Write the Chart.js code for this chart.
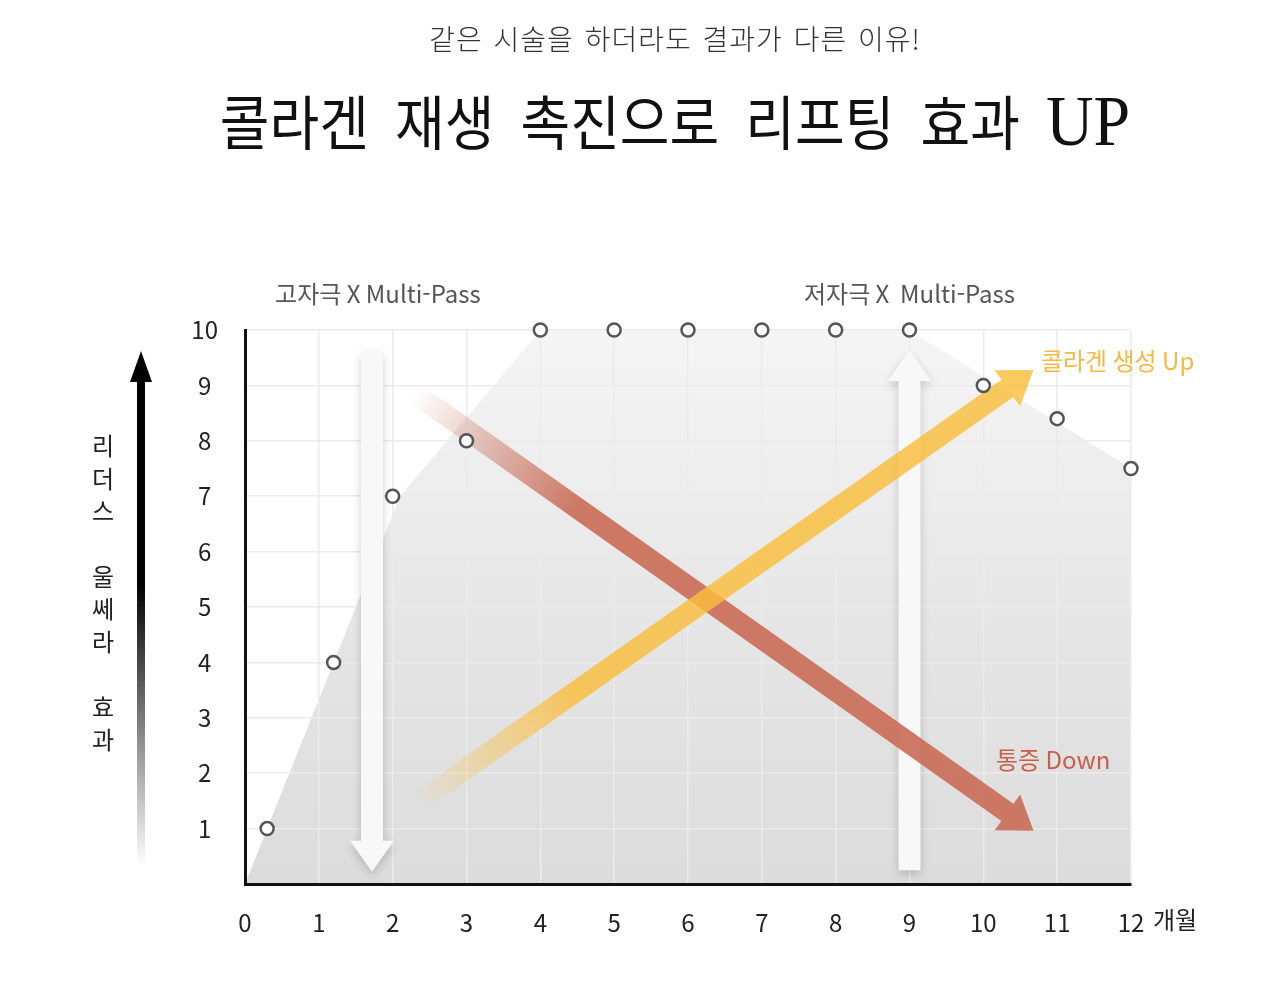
<!DOCTYPE html>
<html lang="ko">
<head>
<meta charset="utf-8">
<script src="https://cdn.jsdelivr.net/npm/chart.js@4.4.1/dist/chart.umd.min.js"></script>
<style>
  html, body { margin: 0; padding: 0; background: #fff; }
  #wrap { position: relative; width: 1266px; height: 984px; overflow: hidden; }
  #chart { position: absolute; left: 0; top: 0; }
  .head { position: absolute; left: 675px; transform: translateX(-50%); white-space: nowrap; z-index: 2; line-height: 1; }
  #sub { top: 18px; font: 300 28px "Noto Sans CJK KR", sans-serif; color: #333; letter-spacing: 1px; word-spacing: 2px; }
  #main { top: 80px; font: 400 54px "Noto Sans CJK KR", serif; color: #111; word-spacing: 11px; transform: translateX(-50%) scaleY(1.1); }
  #main span { font-family: "Liberation Serif", serif; font-size: 1.22em; }
</style>
</head>
<body>
<div id="wrap">
  <div id="sub" class="head">같은 시술을 하더라도 결과가 다른 이유!</div>
  <div id="main" class="head">콜라겐 재생 촉진으로 리프팅 효과 <span>UP</span></div>
  <canvas id="chart" width="1266" height="984"></canvas>
</div>
<script>
// measured points (months, effect level)
const months = [0.3, 1.2, 2, 3, 4, 5, 6, 7, 8, 9, 10, 11, 12];
const effect = [1, 4, 7, 8, 10, 10, 10, 10, 10, 10, 9, 8.4, 7.5];

// shaded area outline
const areaMonths = [0, 2.1, 4, 9, 12];
const areaLevel = [0, 7, 10, 10, 7.5];

const xLabels = ["0", "1", "2", "3", "4", "5", "6", "7", "8", "9", "10", "11", "12"];
const yLabels = ["", "1", "2", "3", "4", "5", "6", "7", "8", "9", "10"];
const yTitle = ["리", "더", "스", "", "울", "쎄", "라", "", "효", "과"];

// arrows in data units: [x0, y0, x1, y1]
const painArrow = [2.3, 8.86, 10.68, 0.96];
const collagenArrow = [2.3, 1.43, 10.68, 9.28];
const highArrow = [1.72, 9.62, 1.72, 0.22];
const lowArrow = [9.0, 0.25, 9.0, 9.64];

const FONT = '"Noto Sans CJK KR", "Noto Sans", sans-serif';

function arrowShape(ctx, len, shaft, headLen, headHalf) {
  ctx.beginPath();
  ctx.moveTo(0, -shaft / 2);
  ctx.lineTo(len - headLen, -shaft / 2);
  ctx.lineTo(len - headLen, -headHalf);
  ctx.lineTo(len, 0);
  ctx.lineTo(len - headLen, headHalf);
  ctx.lineTo(len - headLen, shaft / 2);
  ctx.lineTo(0, shaft / 2);
  ctx.closePath();
}

function drawArrow(chart, pts, style) {
  const ctx = chart.ctx;
  const sx = chart.scales.x, sy = chart.scales.y;
  const x0 = sx.getPixelForValue(pts[0]), y0 = sy.getPixelForValue(pts[1]);
  const x1 = sx.getPixelForValue(pts[2]), y1 = sy.getPixelForValue(pts[3]);
  const len = Math.hypot(x1 - x0, y1 - y0);
  ctx.save();
  ctx.translate(x0, y0);
  ctx.rotate(Math.atan2(y1 - y0, x1 - x0));
  arrowShape(ctx, len, style.shaft, style.headLen, style.headHalf);
  if (style.fade) {
    const g = ctx.createLinearGradient(0, 0, len, 0);
    g.addColorStop(0, style.fade);
    g.addColorStop(0.26, style.color);
    g.addColorStop(1, style.color);
    ctx.fillStyle = g;
  } else {
    ctx.fillStyle = style.color;
  }
  if (style.shadow) {
    ctx.shadowColor = style.shadow;
    ctx.shadowBlur = 10;
    ctx.shadowOffsetY = 4;
  }
  ctx.fill();
  ctx.restore();
}

const decorations = {
  id: "decorations",
  beforeDatasetsDraw(chart) {
    const white = { color: "#f8f8f8", shaft: 22, headLen: 31, headHalf: 22, shadow: "rgba(0,0,0,0.18)" };
    drawArrow(chart, highArrow, white);
    drawArrow(chart, lowArrow, white);
    drawArrow(chart, painArrow, {
      color: "rgba(203,114,94,0.95)", fade: "rgba(203,114,94,0)", shaft: 21, headLen: 32, headHalf: 22,
    });
    drawArrow(chart, collagenArrow, {
      color: "rgba(250,190,60,0.82)", fade: "rgba(250,190,60,0)", shaft: 21, headLen: 32, headHalf: 22,
    });
  },
  afterDraw(chart) {
    const ctx = chart.ctx;
    const sx = chart.scales.x, sy = chart.scales.y;
    const area = chart.chartArea;
    ctx.save();
    ctx.textBaseline = "middle";

    // phase labels
    ctx.font = "24px " + FONT;
    ctx.fillStyle = "#555";
    ctx.textAlign = "center";
    ctx.fillText("고자극 X Multi-Pass", sx.getPixelForValue(1.8), sy.getPixelForValue(10.65));
    ctx.fillText("저자극 X  Multi-Pass", sx.getPixelForValue(9.0), sy.getPixelForValue(10.65));

    ctx.textAlign = "left";
    ctx.fillStyle = "#f7b841";
    ctx.fillText("콜라겐 생성 Up", sx.getPixelForValue(10.78), sy.getPixelForValue(9.45));
    ctx.fillStyle = "#c95f48";
    ctx.fillText("통증 Down", sx.getPixelForValue(10.17), sy.getPixelForValue(2.24));

    // unit after last x tick
    ctx.fillStyle = "#222";
    ctx.fillText("개월", sx.getPixelForValue(12) + 22, area.bottom + 36);

    // y title, stacked
    ctx.textAlign = "center";
    ctx.fillStyle = "#222";
    const tx = area.left - 142;
    yTitle.forEach((ch, i) => {
      if (ch) ctx.fillText(ch, tx, 446 + i * 32.6);
    });

    // black gradient arrow
    const ax = area.left - 104;
    const top = sy.getPixelForValue(9.62);
    const bot = sy.getPixelForValue(0.32);
    const g = ctx.createLinearGradient(0, top, 0, bot);
    g.addColorStop(0, "#000");
    g.addColorStop(0.45, "#000");
    g.addColorStop(1, "rgba(0,0,0,0)");
    ctx.fillStyle = g;
    ctx.beginPath();
    ctx.moveTo(ax, top);
    ctx.lineTo(ax + 11, top + 31);
    ctx.lineTo(ax + 4, top + 31);
    ctx.lineTo(ax + 4, bot);
    ctx.lineTo(ax - 4, bot);
    ctx.lineTo(ax - 4, top + 31);
    ctx.lineTo(ax - 11, top + 31);
    ctx.closePath();
    ctx.fill();
    ctx.restore();
  },
};

new Chart(document.getElementById("chart"), {
  type: "line",
  data: {
    datasets: [
      {
        label: "effect",
        data: months.map((m, i) => ({ x: m, y: effect[i] })),
        showLine: false,
        pointRadius: 6.5,
        pointBorderWidth: 2.5,
        pointBorderColor: "#555",
        pointBackgroundColor: "#fff",
        clip: false,
        order: 0,
      },
      {
        label: "area",
        data: areaMonths.map((m, i) => ({ x: m, y: areaLevel[i] })),
        pointRadius: 0,
        borderWidth: 0,
        borderColor: "rgba(0,0,0,0)",
        tension: 0,
        fill: "origin",
        backgroundColor: (c) => {
          const a = c.chart.chartArea;
          if (!a) return "#e6e6e6";
          const g = c.chart.ctx.createLinearGradient(0, a.top, 0, a.bottom);
          g.addColorStop(0, "#f5f5f5");
          g.addColorStop(0.6, "#e4e4e4");
          g.addColorStop(1, "#dcdcdc");
          return g;
        },
        order: 1,
      },
    ],
  },
  options: {
    responsive: false,
    animation: false,
    events: [],
    layout: { padding: { top: 330, left: 185, right: 135, bottom: 30 } },
    plugins: {
      legend: { display: false },
      tooltip: { enabled: false },
      filler: { drawTime: "beforeDraw" },
    },
    scales: {
      x: {
        type: "linear",
        min: 0,
        max: 12,
        afterFit: (s) => { s.height = 70; },
        ticks: {
          stepSize: 1,
          padding: 24,
          color: "#222",
          font: { family: FONT, size: 24 },
          callback: (v) => xLabels[v] ?? "",
        },
        grid: { color: "#ebebeb", lineWidth: 1.5, drawTicks: false },
        border: { color: "#111", width: 3 },
      },
      y: {
        min: 0,
        max: 10,
        afterFit: (s) => { s.width = 60; },
        ticks: {
          stepSize: 1,
          padding: 27,
          crossAlign: "center",
          color: "#222",
          font: { family: FONT, size: 24 },
          callback: (v) => yLabels[v] ?? "",
        },
        grid: { color: "#ebebeb", lineWidth: 1.5, drawTicks: false },
        border: { color: "#111", width: 3 },
      },
    },
  },
  plugins: [decorations],
});
</script>
</body>
</html>
